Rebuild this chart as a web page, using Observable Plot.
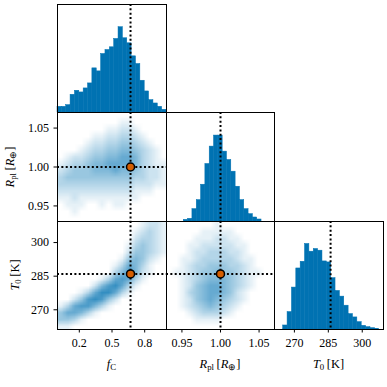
<!DOCTYPE html>
<html><head><meta charset="utf-8">
<script src="https://cdn.jsdelivr.net/npm/d3@7"></script>
<script src="https://cdn.jsdelivr.net/npm/@observablehq/plot@0.6"></script>
<style>
html,body{margin:0;padding:0;background:#fff;}
#fig{position:relative;width:387px;height:387px;overflow:hidden;font-family:"Liberation Serif",serif;color:#000;}
#fig svg{position:absolute;overflow:visible;}
.lab{position:absolute;font-size:12.5px;white-space:nowrap;transform:translate(-50%,-50%);line-height:1;}
.lab sub{font-size:70%;vertical-align:-0.3em;line-height:0;font-style:normal;}
.rot{transform:translate(-50%,-50%) rotate(-90deg);}
</style></head><body><div id="fig"></div>
<script>
// ---------- data ----------
const fcDomain = [0, 1];
const rplDomain = [0.93, 1.07];
const t0Domain = [261.2, 309.4];
const truthFc = 0.67, truthRpl = 1.0, truthT0 = 286;

const fcTicks = [0.2, 0.5, 0.8];
const rplTicks = [0.95, 1.0, 1.05];
const t0Ticks = [270, 285, 300];

// histogram heights (25 equal bins across each panel range)
const fcCounts = [17,17,22,53,65,60,72,87,132,123,175,187,195,220,255,222,207,168,145,95,63,37,27,17,8];
const rplCounts = [0,0,0,0,5,8,37,64,110,172,224,257,257,209,184,149,104,64,37,22,12,6,0,0,0];
const t0Counts = [0,0,12,52,125,182,202,255,232,240,235,203,200,153,115,98,71,46,36,22,11,7,4,2,0];
const histTop = {fc: 323, rpl: 326, t0: 322};

// sample density grids (16 x 16, rows top -> bottom, 0..9)
const gridFcRpl = [
"0000000000000000",
"0000000001100000",
"0000000112210000",
"0000011223321000",
"0000122334432100",
"0001233445543210",
"0122344556653210",
"1233455666653211",
"2344455565543221",
"3444444444433221",
"3333333333322211",
"2222222222211100",
"1121111111110000",
"0111001011000000",
"0010000000000000",
"0000000000000000"];
const gridFcT0 = [
"0000000000001221",
"0000000000012321",
"0000000000023321",
"0000000000134321",
"0000000000244321",
"0000000001454210",
"0000000013653100",
"0000000035752100",
"0000001367631000",
"0000025786310000",
"0001368863100000",
"0024787420000000",
"1367753100000000",
"4665310000000000",
"4431000000000000",
"1100000000000000"];
const gridRplT0 = [
"0000000100000000",
"0000011111000000",
"0000111221100000",
"0001122222110000",
"0001223332210000",
"0011233333211000",
"0012334443321000",
"0112344544321100",
"0012345554321000",
"0012456654321000",
"0013456654210000",
"0012456543210000",
"0012345432100000",
"0001233321000000",
"0000111100000000",
"0000000000000000"];

// ---------- layout ----------
const blue = "#0072b2", orange = "#d55e00";
const colLeft = [57, 166, 274], colW = [109, 108, 109];
const rowTop = [4, 112, 221], rowH = [108, 109, 108];
const fig = document.getElementById("fig");
const font = "'Liberation Serif', serif";
const dotted = {stroke: "black", strokeWidth: 2, strokeDasharray: "2,2.35"};

function bins(counts, domain) {
  const n = counts.length, w = (domain[1] - domain[0]) / n;
  return counts.map((c, i) => ({x1: domain[0] + i * w, x2: domain[0] + (i + 1) * w, y: c}));
}
function flat(grid) {
  return grid.join("").split("").map(Number);
}

function panel({col, row, xDomain, yDomain, marks, xTicks, xFmt, yTicks, yFmt}) {
  const mL = yTicks ? 55 : 0, mB = xTicks ? 30 : 0;
  const all = [...marks, Plot.frame({stroke: "black", strokeWidth: 1})];
  if (xTicks) all.push(Plot.axisX({ticks: xTicks, tickFormat: xFmt, tickSize: 3.5, tickPadding: 5, label: null, fontSize: 12, fontFamily: font}));
  if (yTicks) all.push(Plot.axisY({ticks: yTicks, tickFormat: yFmt, tickSize: 3.5, tickPadding: 5, label: null, fontSize: 12, fontFamily: font}));
  const p = Plot.plot({
    width: colW[col] + mL, height: rowH[row] + mB,
    marginLeft: mL, marginRight: 0, marginTop: 0, marginBottom: mB,
    style: "background:transparent;overflow:visible;font-family:'Liberation Serif',serif;font-size:12px;color:black;",
    x: xTicks ? {domain: xDomain} : {domain: xDomain, axis: null},
    y: yTicks ? {domain: yDomain} : {domain: yDomain, axis: null},
    color: {type: "linear", domain: [0, 10], range: ["#ffffff", blue], interpolate: "rgb"},
    marks: all
  });
  p.style.left = (colLeft[col] - mL) + "px";
  p.style.top = rowTop[row] + "px";
  fig.appendChild(p);
}

function hist(col, row, counts, domain, top, truth, xTicks, xFmt) {
  panel({col, row, xDomain: domain, yDomain: [0, top], xTicks, xFmt,
    marks: [
      Plot.rectY(bins(counts, domain), {x1: "x1", x2: "x2", y: "y", fill: blue, stroke: blue, strokeWidth: 0.5}),
      Plot.ruleX([truth], dotted)
    ]});
}

function scatter(col, row, grid, xd, yd, tx, ty, xTicks, xFmt, yTicks, yFmt) {
  panel({col, row, xDomain: xd, yDomain: yd, xTicks, xFmt, yTicks, yFmt,
    marks: [
      Plot.raster(flat(grid), {width: 16, height: 16, x1: xd[0], x2: xd[1], y1: yd[1], y2: yd[0], fill: d => d}),
      Plot.ruleX([tx], dotted),
      Plot.ruleY([ty], dotted),
      Plot.dot([[tx, ty]], {x: d => d[0], y: d => d[1], r: 4, fill: orange, stroke: "black", strokeWidth: 1.5})
    ]});
}

const f1 = d3.format(".1f"), f2 = d3.format(".2f"), f0 = d3.format("d");

hist(0, 0, fcCounts, fcDomain, histTop.fc, truthFc);
scatter(0, 1, gridFcRpl, fcDomain, rplDomain, truthFc, truthRpl, null, null, rplTicks, f2);
hist(1, 1, rplCounts, rplDomain, histTop.rpl, truthRpl);
scatter(0, 2, gridFcT0, fcDomain, t0Domain, truthFc, truthT0, fcTicks, f1, t0Ticks, f0);
scatter(1, 2, gridRplT0, rplDomain, t0Domain, truthRpl, truthT0, rplTicks, f2, null, null);
hist(2, 2, t0Counts, t0Domain, histTop.t0, truthT0, t0Ticks, f0);

// axis labels
const labels = [
  {html: "<i>f</i><sub>C</sub>", x: 111.5, y: 364, rot: false},
  {html: "<i>R</i><sub>pl</sub>&#8201;[<i>R</i><sub>&#8853;</sub>]", x: 220, y: 364, rot: false},
  {html: "<i>T</i><sub>0</sub>&#8201;[K]", x: 328.5, y: 364, rot: false},
  {html: "<i>R</i><sub>pl</sub>&#8201;[<i>R</i><sub>&#8853;</sub>]", x: 10, y: 166.5, rot: true},
  {html: "<i>T</i><sub>0</sub>&#8201;[K]", x: 14.5, y: 275, rot: true}
];
for (const l of labels) {
  const d = document.createElement("div");
  d.className = "lab" + (l.rot ? " rot" : "");
  d.innerHTML = l.html;
  d.style.left = l.x + "px";
  d.style.top = l.y + "px";
  fig.appendChild(d);
}
</script></body></html>
